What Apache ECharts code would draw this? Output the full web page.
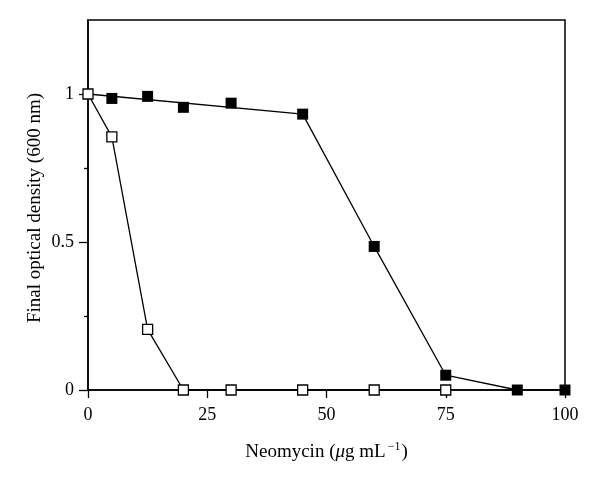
<!DOCTYPE html>
<html>
<head>
<meta charset="utf-8">
<script src="https://cdn.jsdelivr.net/npm/echarts@6/dist/echarts.min.js"></script>
<style>
  html, body { margin: 0; padding: 0; background: #fff; }
  #chart { width: 600px; height: 479px; }
</style>
</head>
<body>
<div id="chart"></div>
<script>
// neomycin doses (ug/mL) and final OD600
const filledDoses = [5, 12.5, 20, 30, 45, 60, 75, 90, 100];
const filledOD = [0.985, 0.992, 0.955, 0.969, 0.932, 0.485, 0.05, 0.0, 0.0];
// the filled-square curve: straight fit over 0-45, then joined point to point
const filledLineDoses = [0, 45, 60, 75, 90, 100];
const filledLineOD = [1.0, 0.932, 0.485, 0.05, 0.0, 0.0];
const openDoses = [0, 5, 12.5, 20, 30, 45, 60, 75];
const openOD = [1.0, 0.855, 0.205, 0.0, 0.0, 0.0, 0.0, 0.0];
const xTicks = [0, 25, 50, 75, 100];
const yMajorTicks = [0, 0.5, 1];
const yMinorTicks = [0.25, 0.75];

const FONT = '"Liberation Serif", "DejaVu Serif", serif';

function pairs(xs, ys) {
    return xs.map((x, i) => [x, ys[i]]);
}

const chart = echarts.init(document.getElementById('chart'));

const option = {
    animation: false,
    grid: {
        left: 88, right: 35, top: 20, bottom: 89,
        show: true, borderColor: '#000', borderWidth: 1.5
    },
    xAxis: {
        type: 'value',
        min: 0, max: 100, interval: 25,
        splitLine: { show: false },
        axisLine: { onZero: false, lineStyle: { color: '#000', width: 1.5 } },
        axisTick: { length: 8, lineStyle: { color: '#000', width: 1.3 } },
        axisLabel: {
            color: '#000', fontFamily: FONT, fontSize: 18, margin: 16,
            customValues: xTicks
        },
        name: '{a|Neomycin (}{i|μ}{a|g mL}{s|−1}{a|)}',
        nameLocation: 'middle',
        nameGap: 51,
        nameTextStyle: {
            rich: {
                a: { fontFamily: FONT, fontSize: 19, color: '#000' },
                i: { fontFamily: FONT, fontSize: 19, fontStyle: 'italic', color: '#000' },
                s: { fontFamily: FONT, fontSize: 12, color: '#000', padding: [0, 1, 10, 2] }
            }
        }
    },
    yAxis: [{
        type: 'value',
        min: 0, max: 1.25, interval: 0.25,
        splitLine: { show: false },
        axisLine: { onZero: false, lineStyle: { color: '#000', width: 1.5 } },
        axisTick: { length: 9, customValues: yMajorTicks, lineStyle: { color: '#000', width: 1.3 } },
        axisLabel: {
            color: '#000', fontFamily: FONT, fontSize: 18, margin: 14,
            customValues: yMajorTicks,
            formatter: v => String(v)
        }
    }, {
        type: 'value',
        position: 'left',
        min: 0, max: 1.25, interval: 0.25,
        splitLine: { show: false },
        axisLine: { show: false },
        axisTick: { length: 4, customValues: yMinorTicks, lineStyle: { color: '#000', width: 1.3 } },
        axisLabel: { show: false }
    }],
    graphic: [{
        type: 'text',
        x: 35, y: 208,
        rotation: Math.PI / 2,
        style: {
            text: 'Final optical density (600 nm)',
            fontFamily: FONT, fontSize: 19, fill: '#000',
            textAlign: 'center', textVerticalAlign: 'middle'
        }
    }],
    series: [{
        name: 'filled line',
        type: 'line',
        data: pairs(filledLineDoses, filledLineOD),
        symbol: 'none',
        lineStyle: { color: '#000', width: 1.3 },
        z: 2
    }, {
        name: 'filled',
        type: 'scatter',
        data: pairs(filledDoses, filledOD),
        symbol: 'rect',
        symbolSize: 11,
        itemStyle: { color: '#000', opacity: 1 },
        z: 3
    }, {
        name: 'open',
        type: 'line',
        data: pairs(openDoses, openOD),
        symbol: 'rect',
        symbolSize: 10,
        showAllSymbol: true,
        lineStyle: { color: '#000', width: 1.3 },
        itemStyle: { color: '#fff', borderColor: '#000', borderWidth: 1.3 },
        z: 4
    }]
};

chart.setOption(option);

window.addEventListener('resize', function() {
    chart.resize();
});
</script>
</body>
</html>
